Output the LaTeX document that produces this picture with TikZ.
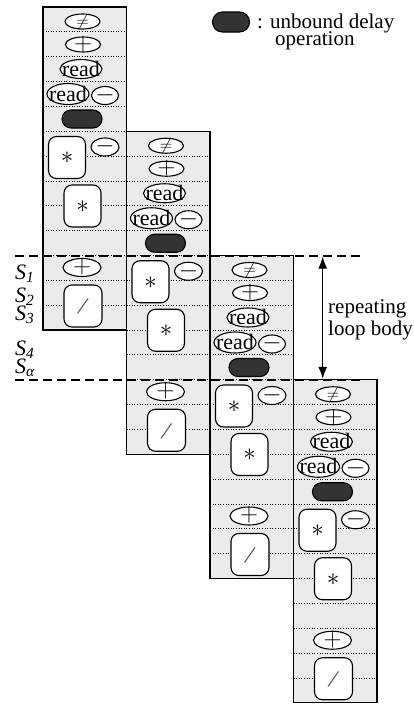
\documentclass[tikz,border=0pt]{standalone}
\usepackage{fontspec}
\setmainfont{Liberation Serif}
\usetikzlibrary{arrows.meta,shapes.geometric}
\definecolor{colfill}{HTML}{EBEBEB}
\definecolor{delayfill}{HTML}{333333}
\definecolor{slashgray}{HTML}{555555}
\newcommand\ctxt[2][0.25em]{\raisebox{-#1}[0pt][0pt]{\makebox[0pt]{#2}}}
\tikzset{
  colfillst/.style={fill=colfill},
  colborder/.style={draw, line width=1.2pt},
  rowline/.style={line width=0.9pt, dash pattern=on 1pt off 1.6pt},
  opbase/.style={draw, line width=1.1pt, fill=white, inner sep=0pt, font=\fontsize{23}{26}\selectfont},
  opA/.style={opbase, ellipse, minimum width=35pt, minimum height=15pt},
  opR/.style={opbase, ellipse, minimum width=42pt, minimum height=19pt, font=\fontsize{22}{24}\selectfont},
  opM/.style={opbase, ellipse, minimum width=27pt, minimum height=18pt},
  delay/.style={draw, line width=1.1pt, fill=delayfill, rounded corners=9pt, minimum width=40pt, minimum height=18pt, inner sep=0pt},
  mulbox/.style={opbase, rectangle, rounded corners=8pt, minimum width=37pt, minimum height=42pt, font=\fontsize{25}{28}\selectfont},
  loopdash/.style={line width=2pt, dash pattern=on 9pt off 5pt},
  lbl/.style={font=\fontsize{21}{24}\selectfont, inner sep=0pt},
  stlbl/.style={font=\fontsize{22}{24}\selectfont, inner sep=0pt},
}
\begin{document}
\begin{tikzpicture}[x=1pt,y=-1pt]
\useasboundingbox (0,0) rectangle (413,707);
\foreach \i in {0,1,2,3}{
  \pgfmathsetmacro\cx{43+83.5*\i}
  \pgfmathsetmacro\cy{7+124.25*\i}
  \begin{scope}[shift={(\cx,\cy)}]
    \path[colfillst] (0,0) rectangle (83.5,323);
    \foreach \r in {1,...,12}{
      \draw[rowline] (0,\r*24.85) -- (83.5,\r*24.85);
    }
    \path[colborder] (0,0) rectangle (83.5,323);
    \node[opA, font=\fontsize{19}{22}\selectfont] (ne\i) at (39.5,14.5) {\ctxt{$\neq$}};
    \node[opA] (pa\i) at (40,37.5) {\ctxt{$+$}};
    \node[opR] (ra\i) at (38,62) {\ctxt[0.32em]{read}};
    \node[opR, minimum height=21pt] (rb\i) at (25,87) {\ctxt[0.32em]{read}};
    \node[opM] (ma\i) at (62,88.5) {\ctxt{$-$}};
    \node[delay] (dl\i) at (39,112) {};
    \node[mulbox] (mua\i) at (24,150.5) {\ctxt{$\ast$}};
    \node[opM, minimum width=28pt] (mb\i) at (62,140) {\ctxt{$-$}};
    \node[mulbox] (mub\i) at (39.5,199) {\ctxt{$\ast$}};
    \node[opA, minimum width=38pt, minimum height=18pt] (pb\i) at (39,260.5) {\ctxt{$+$}};
    \node[mulbox, minimum width=38pt, font=\fontsize{26}{28}\selectfont] (dv\i) at (40,299) {\ctxt[0.3em]{\textcolor{slashgray}{\rotatebox{-16}{/}}}};
  \end{scope}
}
% loop body markers
\coordinate (dla) at (15,255.5);
\coordinate (dra) at (362,255.5);
\coordinate (dlb) at (15,379.75);
\coordinate (drb) at (362,379.75);
\draw[loopdash] (dla) -- (dra);
\draw[loopdash] (dlb) -- (drb);
\coordinate (ara) at (322.7,256.5);
\coordinate (arb) at (322.7,378.8);
\draw[line width=1.4pt, {Latex[length=12pt,width=9pt]}-{Latex[length=12pt,width=9pt]}] (ara) -- (arb);
\node[lbl, anchor=base west] (rep) at (328,313) {repeating};
\node[lbl, anchor=base west] (lbody) at (328,335) {loop body};
% stage labels
\node[stlbl, anchor=base west] (s1) at (15,279) {\textit{S}\textsubscript{\textit{1}}};
\node[stlbl, anchor=base west] (s2) at (15,302) {\textit{S}\textsubscript{\textit{2}}};
\node[stlbl, anchor=base west] (s3) at (15,320) {\textit{S}\textsubscript{\textit{3}}};
\node[stlbl, anchor=base west] (s4) at (15,355) {\textit{S}\textsubscript{\textit{4}}};
\node[stlbl, anchor=base west] (sa) at (15,373) {\textit{S}\textsubscript{\textit{α}}};
% legend
\node[delay, minimum width=37pt, minimum height=20pt, rounded corners=10pt] (legdelay) at (231,22) {};
\node[lbl, anchor=base west] (legt1) at (257,28) {: unbound delay};
\node[lbl, anchor=base west] (legt2) at (275,45) {operation};
\end{tikzpicture}
\end{document}
